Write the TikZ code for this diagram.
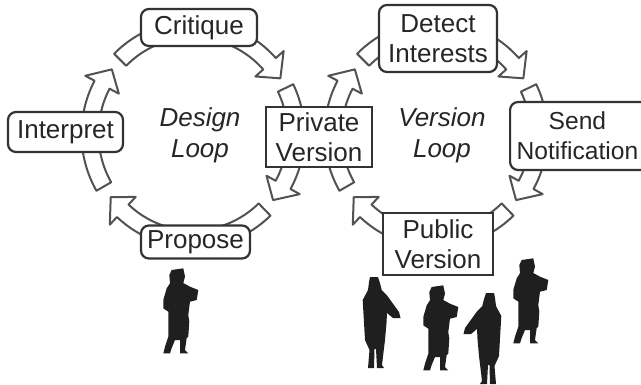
\documentclass[tikz,border=0pt]{standalone}
\usepackage{fontspec}
\setmainfont{Liberation Sans}
\begin{document}
\begin{tikzpicture}[x=1pt,y=-1pt,
  box/.style={draw=black!80, line width=2.2pt, fill=white, rounded corners=8pt,
    inner sep=0pt, align=center, text=black!85, font=\fontsize{26}{30}\selectfont},
  sharpbox/.style={box, rounded corners=0pt, line width=1.8pt},
  looplabel/.style={align=center, text=black!85, font=\fontsize{26}{31}\selectfont\itshape},
  ringarrow/.style={draw=black!68, fill=white, line width=2pt, line join=round},
  person/.style={fill=black!88},
  holder/.pic={\fill[person] (11.7,2) -- (23.3,0.3) -- (25,8.7) -- (23.3,15) -- (30,18.7)
    -- (38.3,22) -- (36.7,32) -- (30,33.7) -- (28.3,47) -- (29.3,53.7) -- (28.3,68.7)
    -- (26.7,70) -- (25,82) -- (28.3,85.3) -- (20,85.3) -- (20,72) -- (15,72) -- (11.7,80)
    -- (10,85.3) -- (3.3,85.3) -- (5,78.7) -- (8.3,68.7) -- (8.3,43.7) -- (3.3,40.3)
    -- (3.3,32) -- (6.7,20.3) -- (10,15.3) -- (9.3,7) -- cycle;},
  pointer/.pic={\fill[person] (8,0) -- (16,0) -- (18,6) -- (19.7,13) -- (24.7,18)
    -- (37,35) -- (38.5,41) -- (31,41) -- (25,36) -- (24.5,46) -- (23,63) -- (20,88)
    -- (22,91) -- (15,91) -- (14,72) -- (12.5,72) -- (12,91) -- (6,91) -- (7.5,73)
    -- (3,63) -- (0.7,23) -- (6,13) -- (7,5) -- cycle;}
]
\useasboundingbox (0,0) rectangle (641,384);
\fill[white] (0,0) rectangle (641,384);

% centres of the two loops
\coordinate (designC) at (193,134);
\coordinate (versionC) at (436,134);

% hollow block arrow following an elliptic ring: #1 centre, #2 start angle, #3 tip angle
\newcommand\ringarrow[3]{%
  \pgfmathsetmacro\hb{#3-10}%
  \filldraw[ringarrow, shift={(#1)}]
    plot[domain=#2:\hb, samples=40] ({(103+8.5)*cos(\x)},{(105+8.5)*sin(\x)})
    -- ({(103+19)*cos(\hb)},{(105+19)*sin(\hb)})
    -- ({103*cos(#3)},{105*sin(#3)})
    -- ({(103-19)*cos(\hb)},{(105-19)*sin(\hb)})
    -- plot[domain=\hb:#2, samples=40] ({(103-8.5)*cos(\x)},{(105-8.5)*sin(\x)})
    -- cycle;}

% design loop arrows
\ringarrow{designC}{150}{218}
\ringarrow{designC}{225}{328}
\ringarrow{designC}{334}{399}
\ringarrow{designC}{46}{143}
% version loop arrows
\ringarrow{versionC}{150}{218}
\ringarrow{versionC}{225}{328}
\ringarrow{versionC}{334}{399}
\ringarrow{versionC}{46}{143}

% steps of the design loop
\node[box, minimum width=116pt, minimum height=37pt] (critique) at (199,27.5) {Critique};
\node[box, minimum width=115pt, minimum height=40pt] (interpret) at (65.5,132) {Interpret};
\node[box, minimum width=109pt, minimum height=33pt] (propose) at (195.5,242) {Propose};
\node[sharpbox, minimum width=106pt, minimum height=60pt] (private) at (319,137) {Private\\Version};
\node[looplabel] (designlbl) at (200,135) {Design\\Loop};

% steps of the version loop
\node[box, minimum width=118pt, minimum height=67pt] (detect) at (438,38.5) {Detect\\Interests};
\node[box, minimum width=142pt, minimum height=68pt, anchor=west,
      font=\fontsize{24.6}{30}\selectfont] (send) at (509,136) {};
\node[anchor=east, inner sep=0pt, align=center, text=black!85,
      font=\fontsize{24.6}{30}\selectfont] (sendtxt) at (638.5,136) {Send\\Notification};
\node[sharpbox, minimum width=110pt, minimum height=62pt] (public) at (438,244) {Public\\Version};
\node[looplabel] (versionlbl) at (442,135) {Version\\Loop};

% people
\pic (designer) at (160,268) {holder};
\pic (user1) at (362,277) {pointer};
\pic (user2) at (420,285) {holder};
\pic[xscale=-1] (user3) at (502,293) {pointer};
\pic (user4) at (510,258) {holder};
\end{tikzpicture}
\end{document}
